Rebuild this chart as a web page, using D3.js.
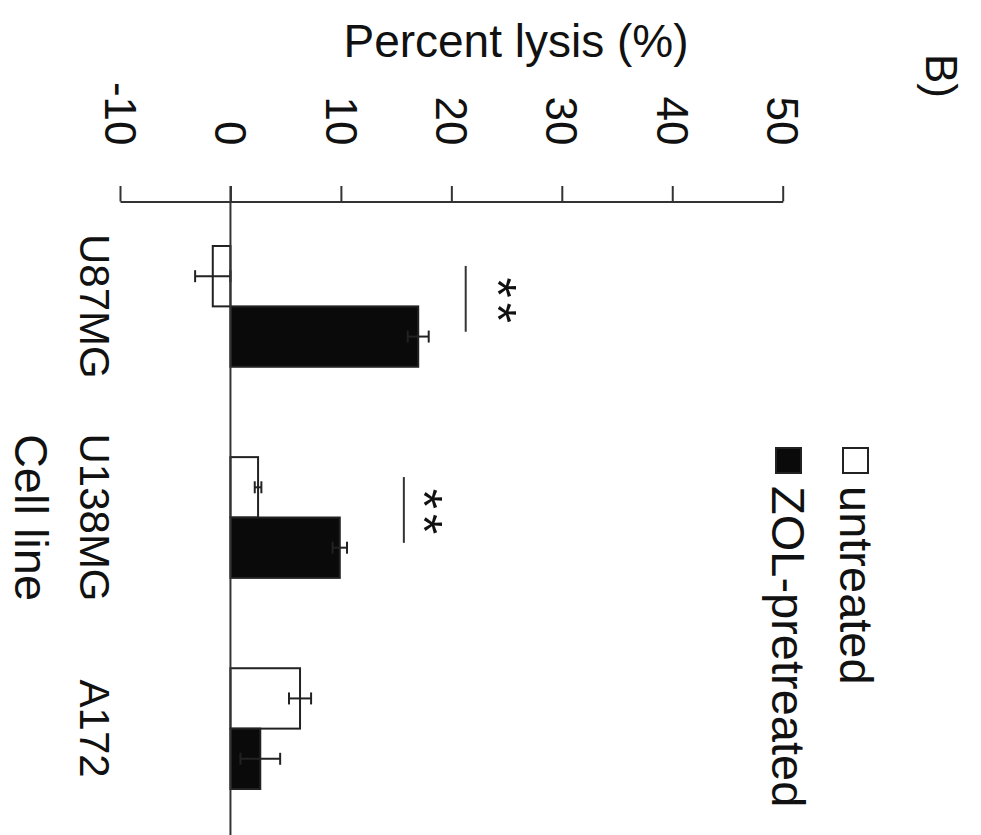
<!DOCTYPE html>
<html>
<head>
<meta charset="utf-8">
<script src="https://cdn.jsdelivr.net/npm/d3@7"></script>
<style>
  body { margin: 0; background: #fff; }
  svg { display: block; }
  text { font-family: "Liberation Sans", Arial, sans-serif; fill: #111; }
</style>
</head>
<body>
<svg id="chart" width="981" height="835"></svg>
<script>
// Percent lysis per cell line
const cellLines = ['U87MG', 'U138MG', 'A172'];
const seriesNames = ['untreated', 'ZOL-pretreated'];
const untreated = [-1.6, 2.5, 6.3];
const untreatedErr = [1.6, 0.3, 1.0];
const zolPretreated = [17.0, 9.9, 2.7];
const zolErr = [0.95, 0.65, 1.8];
const sigLine = [21.3, 15.7, null];   // where the significance bar sits
const sigMarkAt = [25.3, 18.6, null]; // where the asterisks sit
const sigMarks = ['**', '**', ''];
const percentTicks = [-10, 0, 10, 20, 30, 40, 50];

const svg = d3.select('#chart');
const axisY = 201.5;

// value axis runs left -> right, cell lines top -> bottom (figure is rotated)
const x = d3.scaleLinear().domain([-10, 50]).range([120, 782.7]);
const y = d3.scaleBand().domain(cellLines).range([246, 789]).paddingInner(0.428).paddingOuter(0);
const ySub = d3.scaleBand().domain(seriesNames).range([0, y.bandwidth()]);

const rows = cellLines.map((c, i) => ([
  { cell: c, series: 'untreated', v: untreated[i], e: untreatedErr[i] },
  { cell: c, series: 'ZOL-pretreated', v: zolPretreated[i], e: zolErr[i] }
])).flat();

// axis on top
const axis = svg.append('g')
  .attr('transform', `translate(0,${axisY})`)
  .call(d3.axisTop(x).tickValues(percentTicks).tickSize(15.5).tickSizeOuter(0).tickFormat(d => String(d)));
axis.select('.domain').attr('stroke', '#333').attr('stroke-width', 2);
axis.selectAll('.tick line').attr('stroke', '#333').attr('stroke-width', 2);
axis.selectAll('.tick text')
  .attr('x', 0).attr('y', 0).attr('dy', '0.36em')
  .attr('text-anchor', 'end')
  .attr('transform', 'translate(0,-56) rotate(90)')
  .style('font-size', '44px')
  .style('font-family', '"Liberation Sans", Arial, sans-serif')
  .attr('fill', '#111');

// bars
svg.append('g').selectAll('rect')
  .data(rows)
  .join('rect')
  .attr('x', d => x(Math.min(0, d.v)))
  .attr('width', d => Math.abs(x(d.v) - x(0)))
  .attr('y', d => y(d.cell) + ySub(d.series))
  .attr('height', ySub.bandwidth())
  .attr('fill', d => d.series === 'untreated' ? '#fff' : '#0a0a0a')
  .attr('stroke', '#222')
  .attr('stroke-width', 2);

// error bars
const eb = svg.append('g').attr('stroke', '#222').attr('stroke-width', 2);
rows.forEach(d => {
  const cy = y(d.cell) + ySub(d.series) + ySub.bandwidth() / 2;
  eb.append('line').attr('x1', x(d.v - d.e)).attr('x2', x(d.v + d.e)).attr('y1', cy).attr('y2', cy);
  [d.v - d.e, d.v + d.e].forEach(v => {
    eb.append('line').attr('x1', x(v)).attr('x2', x(v)).attr('y1', cy - 6).attr('y2', cy + 6);
  });
});

// zero line
svg.append('line')
  .attr('x1', x(0)).attr('x2', x(0))
  .attr('y1', axisY - 15.5).attr('y2', 835)
  .attr('stroke', '#333').attr('stroke-width', 2);

// significance bars and asterisks
cellLines.forEach((c, i) => {
  if (sigLine[i] == null) return;
  const y0 = y(c) + 0.165 * y.bandwidth();
  const y1 = y(c) + 0.71 * y.bandwidth();
  svg.append('line')
    .attr('x1', x(sigLine[i])).attr('x2', x(sigLine[i]))
    .attr('y1', y0).attr('y2', y1)
    .attr('stroke', '#333').attr('stroke-width', 2);
  svg.append('text')
    .attr('transform', `translate(${x(sigMarkAt[i])},${(y0 + y1) / 2 + 4}) rotate(90)`)
    .attr('text-anchor', 'middle')
    .attr('dy', '0.58em')
    .style('font-size', '52px')
    .style('letter-spacing', '5px')
    .text(sigMarks[i]);
});

// category labels
svg.append('g').selectAll('text')
  .data(cellLines)
  .join('text')
  .attr('transform', d => `translate(95,${y(d) + y.bandwidth() / 2}) rotate(90)`)
  .attr('text-anchor', 'middle')
  .attr('dy', '0.36em')
  .style('font-size', '42px')
  .text(d => d);

// axis titles
svg.append('text')
  .attr('transform', `translate(32,${y('U138MG') + y.bandwidth() / 2}) rotate(90)`)
  .attr('text-anchor', 'middle')
  .attr('dy', '0.36em')
  .style('font-size', '47px')
  .text('Cell line');

svg.append('text')
  .attr('x', 516).attr('y', 57)
  .attr('text-anchor', 'middle')
  .style('font-size', '46px')
  .text('Percent lysis (%)');

svg.append('text')
  .attr('transform', 'translate(926,54) rotate(90)')
  .attr('text-anchor', 'start')
  .style('font-size', '44px')
  .text('B)');

// legend
const legend = [
  { name: seriesNames[0], fill: '#fff', base: 840, sq: [843, 448] },
  { name: seriesNames[1], fill: '#0a0a0a', base: 772, sq: [776, 448] }
];
legend.forEach(l => {
  svg.append('rect')
    .attr('x', l.sq[0]).attr('y', l.sq[1]).attr('width', 25).attr('height', 25)
    .attr('fill', l.fill).attr('stroke', '#222').attr('stroke-width', 2);
  svg.append('text')
    .attr('transform', `translate(${l.base},486) rotate(90)`)
    .attr('text-anchor', 'start')
    .style('font-size', '47px')
    .text(l.name);
});
</script>
</body>
</html>
